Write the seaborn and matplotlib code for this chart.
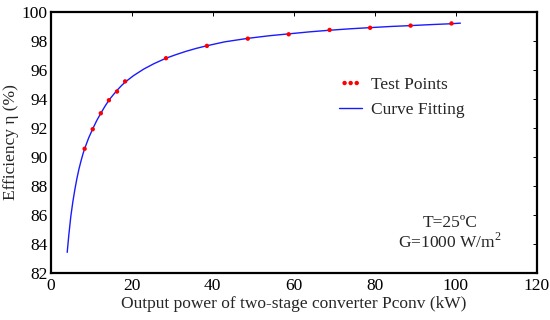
import numpy as np
import pandas as pd
import matplotlib
matplotlib.use("Agg")
import matplotlib.pyplot as plt
import seaborn as sns

# Test points (kW, %)
test_power = [8.4, 10.4, 12.4, 14.4, 16.4, 18.4, 28.5, 38.6, 48.7, 58.8, 68.9, 78.9, 88.9, 99.0]
test_eff = [90.55, 91.9, 93.0, 93.9, 94.5, 95.2, 96.8, 97.65, 98.15, 98.45, 98.75, 98.9, 99.05, 99.2]

# Fitted curve
curve_power = [4.1, 4.5, 5.0, 5.5, 6.0, 6.5, 7.0, 7.5, 8.0, 8.4, 9.4, 10.4, 11.4, 12.4, 13.4,
               14.4, 15.4, 16.4, 17.4, 18.4, 20.5, 23.0, 25.5, 28.5, 31.0, 33.5, 36.0, 38.6,
               43.0, 48.7, 54.0, 58.8, 64.0, 68.9, 74.0, 78.9, 84.0, 88.9, 94.0, 99.0, 101.2]
curve_eff = [83.4, 84.6, 85.9, 86.9, 87.75, 88.5, 89.15, 89.7, 90.2, 90.55, 91.3, 91.92, 92.5,
             93.0, 93.47, 93.9, 94.25, 94.58, 94.88, 95.15, 95.6, 96.05, 96.42, 96.8, 97.05,
             97.28, 97.48, 97.66, 97.93, 98.17, 98.35, 98.48, 98.62, 98.73, 98.83, 98.91,
             98.99, 99.05, 99.12, 99.18, 99.22]

x_ticks = [0, 20, 40, 60, 80, 100, 120]
y_ticks = [82, 84, 86, 88, 90, 92, 94, 96, 98, 100]

sns.set_theme(style="white")
plt.rcParams['font.family'] = ['Liberation Serif', 'DejaVu Serif']
plt.rcParams['mathtext.fontset'] = 'custom'
plt.rcParams['mathtext.rm'] = 'Liberation Serif'

fig = plt.figure(figsize=(5.5, 3.2), dpi=100)
ax = fig.add_axes([0.092, 0.148, 0.8835, 0.815])

curve_df = pd.DataFrame({"P": curve_power, "eff": curve_eff})
test_df = pd.DataFrame({"P": test_power, "eff": test_eff})

sns.lineplot(data=curve_df, x="P", y="eff", ax=ax, color="#1a1aff", linewidth=1.0,
             label="Curve Fitting", sort=False)
sns.scatterplot(data=test_df, x="P", y="eff", ax=ax, color="#ff0000", s=10,
                edgecolor="none", label="Test Points", zorder=3)

ax.set_xlim(0, 120)
ax.set_ylim(82, 100)
ax.set_xticks(x_ticks)
ax.set_yticks(y_ticks)
ax.tick_params(axis="both", direction="in", length=3, width=0.9, labelsize=12.5,
               top=True, right=True, colors="black", labelcolor="black", pad=2)
ax.tick_params(axis="x", pad=4)
for t in ax.xaxis.get_major_ticks() + ax.yaxis.get_major_ticks():
    t.tick2line.set_color("#999999")
    t.tick2line.set_markeredgewidth(0.7)
for s in ax.spines.values():
    s.set_color("black")
    s.set_linewidth(1.6)

ax.set_xlabel("Output power of two-stage converter Pconv (kW)", fontsize=12.5, labelpad=1)
ax.set_ylabel("Efficiency η (%)", fontsize=12.5, labelpad=2)

handles, labels = ax.get_legend_handles_labels()
order = [labels.index("Test Points"), labels.index("Curve Fitting")]
ax.legend([handles[i] for i in order], [labels[i] for i in order],
          loc="upper left", bbox_to_anchor=(0.58, 0.777), frameon=False, fontsize=12.5,
          scatterpoints=3, scatteryoffsets=[0.5], handlelength=1.3, handletextpad=0.5,
          labelspacing=0.5, borderaxespad=0)

ax.text(0.822, 0.19, "T=25ºC", transform=ax.transAxes, ha="center", va="center", fontsize=12.5)
ax.text(0.822, 0.118, "G=1000 W/m$^2$", transform=ax.transAxes, ha="center", va="center", fontsize=12.5)

fig.savefig("out.png", dpi=100)
